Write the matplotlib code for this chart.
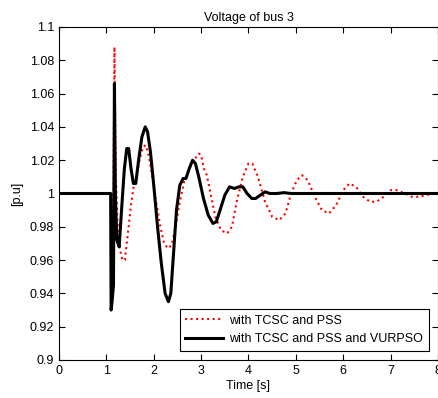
import numpy as np
import matplotlib
matplotlib.use('Agg')
import matplotlib.pyplot as plt
from matplotlib.ticker import FuncFormatter

# with TCSC and PSS (red dotted)
t_pss = [0, 1.09, 1.10, 1.12, 1.14, 1.16, 1.17, 1.18, 1.20, 1.23, 1.28, 1.34, 1.39,
         1.45, 1.52, 1.58, 1.63, 1.70, 1.77, 1.83, 1.90, 1.97, 2.05, 2.14, 2.22,
         2.30, 2.38, 2.46, 2.55, 2.65, 2.75, 2.85, 2.95, 3.00, 3.06, 3.12, 3.20,
         3.30, 3.42, 3.55, 3.65, 3.75, 3.88, 4.00, 4.08, 4.20, 4.35, 4.50, 4.65,
         4.78, 4.90, 5.02, 5.13, 5.25, 5.40, 5.55, 5.70, 5.85, 6.00, 6.13, 6.27,
         6.42, 6.57, 6.70, 6.85, 7.00, 7.13, 7.30, 7.45, 7.60, 7.75, 7.90, 8.00]
v_pss = [1.0, 1.0, 0.99, 0.942, 0.95, 1.04, 1.088, 1.06, 1.01, 0.985, 0.967, 0.96, 0.96,
         0.975, 0.993, 1.005, 1.01, 1.02, 1.028, 1.029, 1.022, 1.01, 0.995, 0.98, 0.97,
         0.967, 0.969, 0.98, 0.995, 1.008, 1.015, 1.02, 1.024, 1.023, 1.015, 1.011, 1.0,
         0.986, 0.978, 0.976, 0.98, 0.995, 1.01, 1.018, 1.018, 1.01, 0.995, 0.986, 0.984,
         0.988, 1.0, 1.008, 1.011, 1.008, 0.998, 0.99, 0.988, 0.993, 1.002, 1.006, 1.004,
         0.998, 0.995, 0.995, 0.998, 1.002, 1.002, 1.0, 0.998, 0.998, 0.999, 1.0, 1.0]

# with TCSC and PSS and VURPSO (black)
t_vur = [0, 1.09, 1.10, 1.12, 1.15, 1.17, 1.19, 1.22, 1.27, 1.32, 1.38, 1.43, 1.47,
         1.52, 1.57, 1.62, 1.68, 1.75, 1.82, 1.87, 1.93, 2.00, 2.08, 2.16, 2.24,
         2.31, 2.36, 2.42, 2.48, 2.55, 2.62, 2.68, 2.75, 2.82, 2.88, 2.95, 3.05,
         3.15, 3.25, 3.32, 3.40, 3.50, 3.60, 3.70, 3.80, 3.88, 3.97, 4.07, 4.15,
         4.25, 4.35, 4.45, 4.60, 4.75, 4.90, 8.00]
v_vur = [1.0, 1.0, 0.93, 0.935, 0.945, 1.066, 1.0, 0.972, 0.968, 0.99, 1.015, 1.027, 1.027,
         1.015, 1.006, 1.006, 1.02, 1.034, 1.04, 1.037, 1.025, 1.005, 0.98, 0.958, 0.94,
         0.935, 0.94, 0.965, 0.99, 1.005, 1.009, 1.009, 1.015, 1.02, 1.018, 1.01, 0.997,
         0.987, 0.982, 0.983, 0.99, 0.999, 1.004, 1.003, 1.004, 1.004, 1.0, 0.997, 0.997,
         0.999, 1.001, 1.0, 1.0, 1.0005, 1.0, 1.0]

plt.rcParams['font.family'] = ['Liberation Sans', 'DejaVu Sans']

fig = plt.figure(figsize=(4.39, 3.98), dpi=100)
ax = fig.add_axes([0.1344, 0.0955, 0.8633, 0.8367])

ax.plot(t_pss, v_pss, color='red', linestyle=':', linewidth=1.5, label='with TCSC and PSS')
ax.plot(t_vur, v_vur, color='black', linewidth=2.2, label='with TCSC and PSS and VURPSO')

ax.set_xlim(0, 8)
ax.set_ylim(0.9, 1.1)
ax.set_xticks(np.arange(0, 9, 1))
ax.set_yticks(np.arange(0.9, 1.1001, 0.02))
ax.yaxis.set_major_formatter(FuncFormatter(lambda v, p: '%g' % round(v, 2)))
ax.tick_params(direction='in', top=True, right=True, labelsize=9, length=4, width=0.8)

ax.set_title('Voltage of bus 3', fontsize=9, pad=4)
ax.set_xlabel('Time [s]', fontsize=9, labelpad=2)
ax.set_ylabel('[p.u]', fontsize=9, labelpad=5)

leg = ax.legend(loc='lower right', fontsize=9, fancybox=False, edgecolor='black',
                framealpha=1, borderaxespad=0.75, handlelength=3.0, handletextpad=0.5,
                borderpad=0.45)
leg.get_frame().set_linewidth(0.8)

fig.savefig('out.png', dpi=100)
